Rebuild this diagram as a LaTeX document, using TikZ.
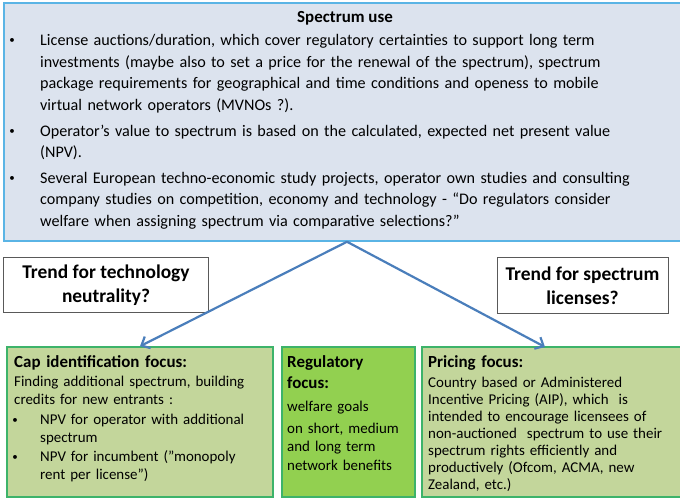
\documentclass[tikz,border=0pt]{standalone}
\usepackage{fontspec}
\setmainfont{Carlito}
\usetikzlibrary{arrows.meta}

\definecolor{usefill}{HTML}{DCE3EE}
\definecolor{useline}{HTML}{5AB4E5}
\definecolor{olivefill}{HTML}{C3D69B}
\definecolor{limefill}{HTML}{92D050}
\definecolor{boxline}{HTML}{3DB36A}
\definecolor{arrowblue}{HTML}{4A7EBB}

\begin{document}
\begin{tikzpicture}
  [x=1bp,y=-1bp,
   usebox/.style={draw=useline,line width=1.5bp,fill=usefill,inner sep=0},
   focusbox/.style={draw=boxline,line width=1.5bp,fill=olivefill,inner sep=0},
   trendbox/.style={draw=black!65,line width=1bp,fill=white,inner sep=0,align=center,
     font=\fontsize{19.5}{24}\selectfont\bfseries},
   txt/.style={anchor=base west,inner sep=0,align=left,text width=630bp},
   dot/.style={anchor=base,inner sep=0,font=\fontsize{11}{11}\selectfont},
   big/.style={font=\fontsize{16.2}{21.5}\selectfont},
   small/.style={font=\fontsize{15}{17.6}\selectfont},
   head/.style={font=\fontsize{17}{21}\selectfont\bfseries},
   flow/.style={draw=arrowblue,line width=2.2bp,-{Straight Barb[length=7bp,width=13bp]}}]
  \useasboundingbox (0,0) rectangle (680,498);

  % spectrum use box
  \node[usebox,minimum width=686bp,minimum height=238bp] (use) at (347,122) {};
  \node[head,anchor=base,inner sep=0] (usetitle) at (345,23) {Spectrum use};
  \foreach \y in {44,134.5,181.5}
    \node[dot] at (12,\y) {\textbullet};
  \node[txt,big] (auction) at (40,46) {License auctions/duration, which cover regulatory certainties to support long term\\
    investments (maybe also to set a price for the renewal of the spectrum), spectrum\\
    package requirements for geographical and time conditions and openess to mobile\\
    virtual network operators (MVNOs ?).};
  \node[txt,big] (npv) at (40,136.5) {Operator’s value to spectrum is based on the calculated, expected net present value\\
    (NPV).};
  \node[txt,big] (studies) at (40,183.5) {Several European techno-economic study projects, operator own studies and consulting\\
    company studies on competition, economy and technology - “Do regulators consider\\
    welfare when assigning spectrum via comparative selections?”};

  % trend questions
  \node[trendbox,minimum width=204bp,minimum height=54bp] (neutral) at (106,285) {Trend for technology\\ neutrality?};
  \node[trendbox,minimum width=171bp,minimum height=55bp] (licenses) at (582.5,285.5) {Trend for spectrum\\ licenses?};

  % focus boxes
  \node[focusbox,minimum width=266bp,minimum height=150bp] (cap) at (140,422) {};
  \node[focusbox,fill=limefill,minimum width=133bp,minimum height=150bp] (reg) at (348.5,422) {};
  \node[focusbox,minimum width=268bp,minimum height=150bp] (pricing) at (556,422) {};
  \coordinate (pricehit) at (545,347);

  \node[txt,head] (captitle) at (14,367) {Cap identification focus:};
  \node[txt,small,text width=255bp] (captext) at (14,386.5) {Finding additional spectrum, building\\ credits for new entrants :};
  \foreach \y in {423,460}
    \node[dot] at (15,\y) {\textbullet};
  \node[txt,small,text width=230bp] (capnpv) at (40,424.5) {NPV for operator with additional\\ spectrum};
  \node[txt,small,text width=230bp] (capinc) at (40,461.5) {NPV for incumbent (”monopoly\\ rent per license”)};

  \node[txt,head,text width=125bp] (regtitle) at (287,367.5) {Regulatory\\ focus:};
  \node[txt,small,text width=125bp] (regwelfare) at (287,411) {welfare goals};
  \node[txt,small,text width=125bp,font=\fontsize{15}{19}\selectfont] (regterm) at (287,433) {on short, medium\\ and long term\\ network benefits};

  \node[txt,head] (pricetitle) at (428,367) {Pricing focus:};
  \node[txt,small,text width=250bp,font=\fontsize{15}{17.2}\selectfont] (pricetext) at (428,387) {Country based or Administered\\
    Incentive Pricing (AIP), which~ is\\
    intended to encourage licensees of\\
    non-auctioned~ spectrum to use their\\
    spectrum rights efficiently and\\
    productively (Ofcom, ACMA, new\\
    Zealand, etc.)};

  % connectors
  \foreach \from/\to in {use/cap.north,use/pricehit}
    \draw[flow] (\from.south -| use) -- (\to);
\end{tikzpicture}
\end{document}
